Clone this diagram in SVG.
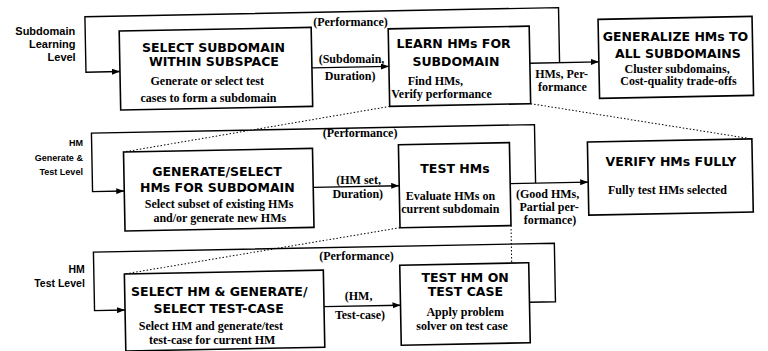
<svg xmlns="http://www.w3.org/2000/svg" width="768" height="351" viewBox="0 0 768 351">
<style>
.box{fill:#fff;stroke:#000;stroke-width:1.6}
.ln{fill:none;stroke:#000;stroke-width:1.4}
.dot{fill:none;stroke:#000;stroke-width:1;stroke-dasharray:1.5 2}
.t{font-family:"DejaVu Sans",sans-serif;font-weight:bold;font-size:12.5px;text-anchor:middle;fill:#000}
.d{font-family:"Liberation Serif","Times New Roman",serif;font-weight:bold;font-size:12px;text-anchor:middle;fill:#000}
.lv{font-family:"Liberation Sans",Arial,sans-serif;font-weight:bold;text-anchor:end;fill:#000}
</style>
<defs>
<marker id="ah" markerUnits="userSpaceOnUse" markerWidth="8" markerHeight="6" refX="8" refY="3" orient="auto">
<path d="M0,0 L8,3 L0,6 z" fill="#000"/>
</marker>
</defs>
<rect width="768" height="351" fill="#fff"/>
<g id="level-labels">
<text class="lv" font-size="11" x="75.2" y="35.2">Subdomain</text>
<text class="lv" font-size="11" x="75.4" y="47.9">Learning</text>
<text class="lv" font-size="11" x="75.7" y="60.6">Level</text>
<text class="lv" font-size="9" x="82.9" y="146.4">HM</text>
<text class="lv" font-size="9" x="82.9" y="161.2">Generate &amp;</text>
<text class="lv" font-size="9" x="82.9" y="174.6">Test Level</text>
<text class="lv" font-size="10.5" x="84.8" y="273.3">HM</text>
<text class="lv" font-size="10.5" x="84.8" y="287.3">Test Level</text>
</g>
<g id="connectors">
<g transform="rotate(-1.1 384 175)">
<path class="ln" d="M561.7,66 V11 H88 V66.5 H122" marker-end="url(#ah)"/>
<path class="ln" d="M314,66.5 H391" marker-end="url(#ah)"/>
<path class="ln" d="M532,66 H601" marker-end="url(#ah)"/>
<path class="ln" d="M535.4,186 V127.5 H92.3 V186 H124" marker-end="url(#ah)"/>
<path class="ln" d="M313,186 H399" marker-end="url(#ah)"/>
<path class="ln" d="M510,186 H588" marker-end="url(#ah)"/>
<path class="ln" d="M527,305 H553 V246.5 H92 V305 H122.5" marker-end="url(#ah)"/>
<path class="ln" d="M321.6,305.5 H398" marker-end="url(#ah)"/>
<path class="dot" d="M391,106.5 L124,147"/>
<path class="dot" d="M532,106.5 L752.5,146"/>
<path class="dot" d="M399,228 L122.5,269"/>
<path class="dot" d="M510,228 V265.5"/>
</g>
<text class="d" x="350.5" y="25.6">(Performance)</text>
<text class="d" x="351.5" y="62.6">(Subdomain,</text>
<text class="d" x="350.2" y="79.6">Duration)</text>
<text class="d" font-size="10" x="561.6" y="77.8">HMs, Per-</text>
<text class="d" font-size="10" x="562.4" y="90.5">formance</text>
<text class="d" x="360.1" y="137.4">(Performance)</text>
<text class="d" x="358.6" y="183.5">(HM set,</text>
<text class="d" x="357.8" y="197.5">Duration)</text>
<text class="d" font-size="10.5" x="547.6" y="197.8">(Good HMs,</text>
<text class="d" font-size="10.5" x="549.1" y="210.8">Partial per-</text>
<text class="d" font-size="10.5" x="550" y="223.8">formance)</text>
<text class="d" x="356.5" y="260.3">(Performance)</text>
<text class="d" x="358.6" y="300.2">(HM,</text>
<text class="d" x="360" y="318.5">Test-case)</text>
</g>
<g id="select-subdomain">
<rect class="box" x="122" y="26" width="192" height="79" transform="rotate(-1.1 384 175)"/>
<text class="t" x="213.6" y="51.7">SELECT SUBDOMAIN</text>
<text class="t" x="213.9" y="66.4">WITHIN SUBSPACE</text>
<text class="d" font-size="12.5" x="207.2" y="85.4">Generate or select test</text>
<text class="d" font-size="12.5" x="208.5" y="101.8">cases to form a subdomain</text>
</g>
<g id="learn-hms">
<rect class="box" x="391" y="29" width="141" height="77.5" transform="rotate(-1.1 384 175)"/>
<text class="t" x="453.6" y="47.6">LEARN HMs FOR</text>
<text class="t" x="455.9" y="66.1">SUBDOMAIN</text>
<text class="d" font-size="11" x="435.3" y="84.5">Find HMs,</text>
<text class="d" font-size="11" x="441.5" y="97.9">Verify performance</text>
</g>
<g id="generalize">
<rect class="box" x="601" y="23.5" width="154" height="79" transform="rotate(-1.1 384 175)"/>
<text class="t" x="675.5" y="41.1">GENERALIZE HMs TO</text>
<text class="t" x="677.9" y="57.7">ALL SUBDOMAINS</text>
<text class="d" font-size="11" x="677.1" y="72.8">Cluster subdomains,</text>
<text class="d" font-size="11" x="678.4" y="85.3">Cost-quality trade-offs</text>
</g>
<g id="generate-select">
<rect class="box" x="124" y="147" width="189" height="79" transform="rotate(-1.1 384 175)"/>
<text class="t" x="217" y="176.2">GENERATE/SELECT</text>
<text class="t" x="217.3" y="192.2">HMs FOR SUBDOMAIN</text>
<text class="d" font-size="12.5" x="219.1" y="207.7">Select subset of existing HMs</text>
<text class="d" font-size="12.5" x="219.8" y="221.7">and/or generate new HMs</text>
</g>
<g id="test-hms">
<rect class="box" x="399" y="145" width="111" height="83" transform="rotate(-1.1 384 175)"/>
<text class="t" x="455" y="172.6">TEST HMs</text>
<text class="d" font-size="11" x="450.5" y="200">Evaluate HMs on</text>
<text class="d" font-size="11" x="450.3" y="213.3">current subdomain</text>
</g>
<g id="verify-hms">
<rect class="box" x="588" y="146" width="164.5" height="73" transform="rotate(-1.1 384 175)"/>
<text class="t" x="670.9" y="166.1">VERIFY HMs FULLY</text>
<text class="d" x="667.5" y="193.6">Fully test HMs selected</text>
</g>
<g id="select-hm-testcase">
<rect class="box" x="122.5" y="269" width="199" height="77" transform="rotate(-1.1 384 175)"/>
<text class="t" x="219.3" y="296.2">SELECT HM &amp; GENERATE/</text>
<text class="t" x="218.6" y="312.7">SELECT TEST-CASE</text>
<text class="d" x="210.9" y="330.2">Select HM and generate/test</text>
<text class="d" x="212.2" y="343.9">test-case for current HM</text>
</g>
<g id="test-hm-on-case">
<rect class="box" x="398" y="265.5" width="129" height="80" transform="rotate(-1.1 384 175)"/>
<text class="t" font-size="12" x="465.1" y="282">TEST HM ON</text>
<text class="t" font-size="12" x="465.4" y="296">TEST CASE</text>
<text class="d" x="465.2" y="316.3">Apply problem</text>
<text class="d" x="462" y="330.3">solver on test case</text>
</g>
</svg>
